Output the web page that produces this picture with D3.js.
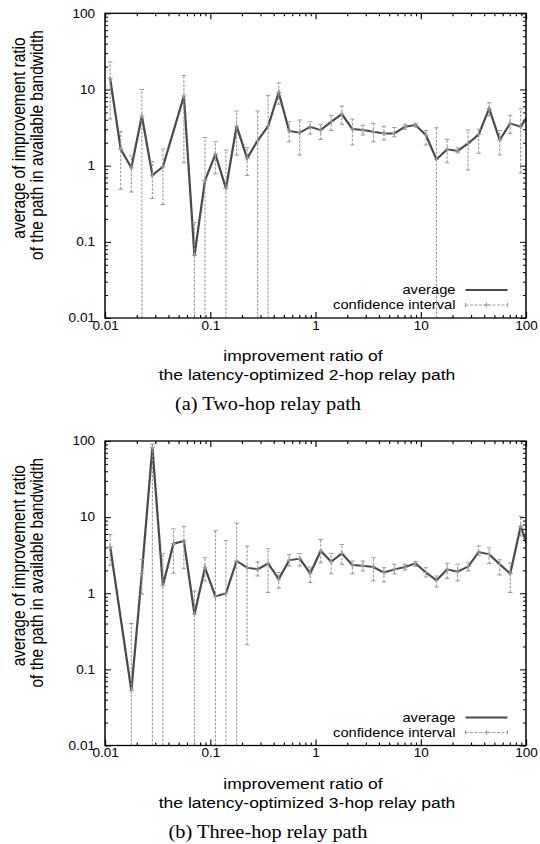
<!DOCTYPE html>
<html>
<head>
<meta charset="utf-8">
<script src="https://cdn.jsdelivr.net/npm/d3@7"></script>
<style>
  html, body { margin: 0; padding: 0; background: #fff; }
  svg { display: block; }
</style>
</head>
<body>
<div id="chart"></div>
<script>
// ---- data -------------------------------------------------------------
// Bin centres (improvement ratio of the relay path) and, per bin, the mean
// bandwidth improvement with its confidence interval. A lower bound of 0
// means the interval reaches below the plotted range.
const twoHopX = [0.0112, 0.0141, 0.0178, 0.0224, 0.0282, 0.0355, 0.0562, 0.0708, 0.0891, 0.112,
  0.141, 0.178, 0.224, 0.282, 0.355, 0.447, 0.562, 0.708, 0.891, 1.12,
  1.41, 1.78, 2.24, 2.82, 3.55, 4.47, 5.62, 7.08, 8.91, 11.2,
  14.1, 17.8, 22.4, 28.2, 35.5, 44.7, 56.2, 70.8, 89.1, 112];
const twoHopAvg = [13.9, 1.65, 0.94, 4.5, 0.75, 0.97, 8.2, 0.066, 0.64, 1.41,
  0.50, 3.3, 1.25, 2.13, 3.3, 9.1, 2.85, 2.7, 3.24, 2.93,
  3.77, 4.75, 3.02, 2.93, 2.79, 2.65, 2.65, 3.24, 3.41, 2.52,
  1.21, 1.64, 1.56, 1.96, 2.57, 5.64, 2.17, 3.59, 3.24, 5.3];
const twoHopLow = [4.1, 0.49, 0.45, 0, 0.37, 0.31, 1.09, 0, 0, 0.78,
  0, 1.38, 0.74, 0, 0, 6.4, 2.06, 1.38, 2.6, 2.2,
  2.9, 3.5, 1.87, 2.52, 2.06, 2.17, 2.4, 3.0, 3.24, 1.87,
  0, 1.09, 1.48, 0.88, 1.45, 4.48, 1.38, 2.65, 0.8, 3.6];
const twoHopHigh = [23, 2.8, 1.35, 10, 1.13, 1.65, 15.3, 0.18, 2.35, 2.06,
  1.6, 5.2, 1.72, 5.2, 8.4, 12.2, 3.77, 3.97, 3.77, 3.5,
  4.6, 6.05, 4.1, 3.4, 3.6, 3.3, 3.18, 3.5, 3.6, 2.9,
  3.15, 2.2, 1.72, 2.93, 3.0, 6.7, 2.9, 4.6, 5.6, 7.5];

const threeHopX = [0.0112, 0.0178, 0.0224, 0.0282, 0.0355, 0.0447, 0.0562, 0.0708, 0.0891, 0.112,
  0.141, 0.178, 0.224, 0.282, 0.355, 0.447, 0.562, 0.708, 0.891, 1.12,
  1.41, 1.78, 2.24, 2.82, 3.55, 4.47, 5.62, 7.08, 8.91, 11.2,
  14.1, 17.8, 22.4, 28.2, 35.5, 44.7, 56.2, 70.8, 89.1, 112];
const threeHopAvg = [4.09, 0.0526, 1.83, 82.6, 1.27, 4.48, 4.85, 0.53, 2.17, 0.91,
  1.0, 2.65, 2.17, 2.06, 2.47, 1.53, 2.71, 2.85, 1.83, 3.59,
  2.6, 3.34, 2.35, 2.3, 2.21, 1.87, 2.06, 2.21, 2.47, 1.87,
  1.48, 2.06, 1.92, 2.24, 3.48, 3.24, 2.4, 1.81, 7.62, 2.9];
const threeHopLow = [2.33, 0, 0.97, 0, 0, 1.83, 2.1, 0, 1.45, 0,
  0, 0, 0.21, 1.69, 1.02, 1.16, 2.28, 2.28, 1.38, 2.52,
  1.81, 2.4, 1.81, 1.96, 1.45, 1.41, 1.81, 2.02, 2.24, 1.64,
  1.21, 1.56, 1.45, 1.96, 3.15, 2.45, 1.74, 1.02, 5.64, 2.0];
const threeHopHigh = [5.9, 0.40, 2.79, 91, 3.3, 7.0, 7.6, 1.07, 2.93, 6.6,
  4.9, 8.4, 4.17, 2.6, 3.85, 1.87, 3.24, 3.34, 2.21, 5.1,
  3.34, 4.38, 2.65, 2.65, 2.93, 2.17, 2.4, 2.4, 2.6, 2.17,
  1.69, 2.47, 2.4, 2.52, 4.17, 3.97, 2.75, 2.5, 10.3, 4.0];

const axisDomain = [0.01, 100];
const majorTicks = [0.01, 0.1, 1, 10, 100];
const majorTickLabels = ["0.01", "0.1", "1", "10", "100"];
const minorMultipliers = [2, 3, 4, 5, 6, 7, 8, 9];

const legendLabels = ["average", "confidence interval"];
const yLabelLines = ["average of improvement ratio", "of the path in available bandwidth"];

const panels = [
  { id: "a", xs: twoHopX, avg: twoHopAvg, low: twoHopLow, high: twoHopHigh,
    xLabel: ["improvement ratio of", "the latency-optimized 2-hop relay path"],
    caption: "(a) Two-hop relay path", top: 13.3, bottom: 318 },
  { id: "b", xs: threeHopX, avg: threeHopAvg, low: threeHopLow, high: threeHopHigh,
    xLabel: ["improvement ratio of", "the latency-optimized 3-hop relay path"],
    caption: "(b) Three-hop relay path", top: 441, bottom: 745.5 }
];

// ---- drawing ----------------------------------------------------------
// The figure is drawn in a slightly narrower coordinate system and widened
// to the page, which gives the horizontally stretched look of the print.
const S = 1.13;
const W = 540 / S, H = 844;
const px = v => v / S;               // page x (pixels) -> drawing units

const SANS = "'Liberation Sans', Arial, Helvetica, sans-serif";
const SERIF = "'Liberation Serif', 'Times New Roman', serif";
const AVG_COLOR = "#4a4a4a";
const CI_COLOR = "#9a9a9a";

const svg = d3.select("#chart").append("svg")
  .attr("width", 540).attr("height", H)
  .attr("viewBox", `0 0 ${W} ${H}`)
  .attr("preserveAspectRatio", "none");

const minorTicks = [];
for (let e = -2; e < 2; e++) minorMultipliers.forEach(m => minorTicks.push(m * Math.pow(10, e)));

panels.forEach(p => {
  const left = px(105), right = px(526);
  const x = d3.scaleLog().domain(axisDomain).range([left, right]);
  const y = d3.scaleLog().domain(axisDomain).range([p.bottom, p.top]);
  const yc = y.copy().clamp(true);
  const g = svg.append("g");

  const clipId = "clip-" + p.id;
  svg.append("clipPath").attr("id", clipId)
    .append("rect").attr("x", left).attr("y", p.top)
    .attr("width", right - left).attr("height", p.bottom - p.top);

  const fmt = d => majorTickLabels[majorTicks.indexOf(d)] || "";
  const majLenX = 6, minLenX = 3;          // vertical tick lengths (page px)
  const majLenY = px(6), minLenY = px(3);  // horizontal tick lengths

  const styleAxis = sel => {
    sel.select(".domain").remove();
    sel.selectAll(".tick line").attr("stroke", "#000").attr("stroke-width", 1);
    sel.attr("font-family", SANS).attr("font-size", 12).selectAll("text").attr("fill", "#000");
  };

  // bottom / top
  g.append("g").attr("transform", `translate(0,${p.bottom})`)
    .call(d3.axisBottom(x).tickValues(majorTicks).tickFormat(fmt).tickSize(-majLenX).tickPadding(3))
    .call(styleAxis);
  g.append("g").attr("transform", `translate(0,${p.bottom})`)
    .call(d3.axisBottom(x).tickValues(minorTicks).tickFormat("").tickSize(-minLenX))
    .call(styleAxis);
  g.append("g").attr("transform", `translate(0,${p.top})`)
    .call(d3.axisTop(x).tickValues(majorTicks).tickFormat("").tickSize(-majLenX))
    .call(styleAxis);
  g.append("g").attr("transform", `translate(0,${p.top})`)
    .call(d3.axisTop(x).tickValues(minorTicks).tickFormat("").tickSize(-minLenX))
    .call(styleAxis);
  // left / right
  g.append("g").attr("transform", `translate(${left},0)`)
    .call(d3.axisLeft(y).tickValues(majorTicks).tickFormat(fmt).tickSize(-majLenY).tickPadding(px(10)))
    .call(styleAxis);
  g.append("g").attr("transform", `translate(${left},0)`)
    .call(d3.axisLeft(y).tickValues(minorTicks).tickFormat("").tickSize(-minLenY))
    .call(styleAxis);
  g.append("g").attr("transform", `translate(${right},0)`)
    .call(d3.axisRight(y).tickValues(majorTicks).tickFormat("").tickSize(-majLenY))
    .call(styleAxis);
  g.append("g").attr("transform", `translate(${right},0)`)
    .call(d3.axisRight(y).tickValues(minorTicks).tickFormat("").tickSize(-minLenY))
    .call(styleAxis);

  const rows = p.xs.map((xv, i) => ({ x: xv, avg: p.avg[i], low: p.low[i], high: p.high[i] }));
  const plot = g.append("g").attr("clip-path", `url(#${clipId})`);

  // average
  plot.append("path").datum(rows)
    .attr("fill", "none").attr("stroke", AVG_COLOR).attr("stroke-width", 2)
    .attr("stroke-linejoin", "miter")
    .attr("d", d3.line().x(d => x(d.x)).y(d => y(d.avg)));

  // confidence intervals
  const ci = plot.append("g").attr("stroke", CI_COLOR).attr("fill", "none");
  ci.selectAll("line.bar").data(rows).join("line").attr("class", "bar")
    .attr("x1", d => x(d.x)).attr("x2", d => x(d.x))
    .attr("y1", d => yc(d.low)).attr("y2", d => yc(d.high))
    .attr("stroke-width", 1).attr("stroke-dasharray", "2.5,1.5");
  const capW = px(2.2);
  ci.selectAll("line.capHi").data(rows.filter(d => d.high <= axisDomain[1])).join("line").attr("class", "capHi")
    .attr("x1", d => x(d.x) - capW).attr("x2", d => x(d.x) + capW)
    .attr("y1", d => y(d.high)).attr("y2", d => y(d.high)).attr("stroke-width", 1);
  ci.selectAll("line.capLo").data(rows.filter(d => d.low >= axisDomain[0])).join("line").attr("class", "capLo")
    .attr("x1", d => x(d.x) - capW).attr("x2", d => x(d.x) + capW)
    .attr("y1", d => y(d.low)).attr("y2", d => y(d.low)).attr("stroke-width", 1);
  const mk = px(2.6);
  ci.selectAll("path.pt").data(rows).join("path").attr("class", "pt")
    .attr("stroke-width", 1)
    .attr("d", d => `M${x(d.x) - mk},${y(d.avg)}H${x(d.x) + mk}M${x(d.x)},${y(d.avg) - 2.6}V${y(d.avg) + 2.6}`);

  // frame
  g.append("rect").attr("x", left).attr("y", p.top)
    .attr("width", right - left).attr("height", p.bottom - p.top)
    .attr("fill", "none").attr("stroke", "#000").attr("stroke-width", 1.3);

  // legend
  const lx0 = px(465.5), lx1 = px(507.5), tx = px(455.5);
  const b1 = p.bottom - 23.5, b2 = p.bottom - 8.5;
  const leg = g.append("g").attr("font-family", SANS).attr("font-size", 13);
  leg.append("text").attr("x", tx).attr("y", b1).attr("text-anchor", "end").text(legendLabels[0]);
  leg.append("text").attr("x", tx).attr("y", b2).attr("text-anchor", "end").text(legendLabels[1]);
  leg.append("line").attr("x1", lx0).attr("x2", lx1).attr("y1", b1 - 4.5).attr("y2", b1 - 4.5)
    .attr("stroke", AVG_COLOR).attr("stroke-width", 2);
  const cy = b2 - 4.5, mid = (lx0 + lx1) / 2;
  leg.append("line").attr("x1", lx0).attr("x2", lx1).attr("y1", cy).attr("y2", cy)
    .attr("stroke", CI_COLOR).attr("stroke-width", 1).attr("stroke-dasharray", "2.5,1.5");
  leg.append("path")
    .attr("d", `M${lx0},${cy - 2}V${cy + 2}M${lx1},${cy - 2}V${cy + 2}M${mid - mk},${cy}H${mid + mk}M${mid},${cy - 2.6}V${cy + 2.6}`)
    .attr("stroke", CI_COLOR).attr("stroke-width", 1).attr("fill", "none");

  // axis titles
  const off = p.top - 13.3;
  const yl = g.append("g").attr("font-family", SANS).attr("font-size", 15.5).attr("text-anchor", "middle");
  yl.append("text").attr("transform", `translate(${px(24.5)},${138 + off}) rotate(-90)`).text(yLabelLines[0]);
  yl.append("text").attr("transform", `translate(${px(42.5)},${145 + off}) rotate(-90)`).text(yLabelLines[1]);
  const xl = g.append("g").attr("font-family", SANS).attr("font-size", 15.5).attr("text-anchor", "middle");
  xl.append("text").attr("x", px(303)).attr("y", 361.3 + off).text(p.xLabel[0]);
  xl.append("text").attr("x", px(307)).attr("y", 380 + off).text(p.xLabel[1]);

  // caption
  g.append("text").attr("x", px(268)).attr("y", 410 + off)
    .attr("font-family", SERIF).attr("font-size", 18).attr("text-anchor", "middle")
    .text(p.caption);
});
</script>
</body>
</html>
